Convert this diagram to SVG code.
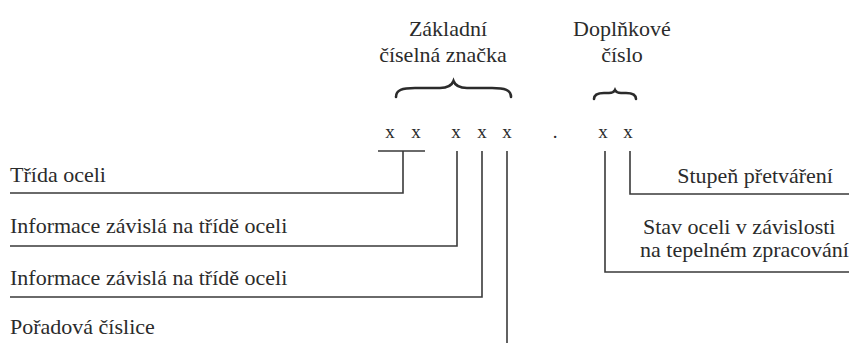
<svg xmlns="http://www.w3.org/2000/svg" width="849" height="343" viewBox="0 0 849 343">
<rect width="849" height="343" fill="#ffffff"/>
<g id="header-basic">
<text x="448" y="36" font-family="Liberation Serif" font-size="22" fill="#2b2b2b" text-anchor="middle">Základní</text>
<text x="443" y="62" font-family="Liberation Serif" font-size="22" fill="#2b2b2b" text-anchor="middle">číselná značka</text>
<path d="M396,97 C396,90 402,88 415,88 L440,88 C448,88 452,85 453.5,81 C455,85 459,88 467,88 L492,88 C505,88 511,90 511,97" fill="none" stroke="#2b2b2b" stroke-width="2.6" stroke-linecap="round"/>
</g>
<g id="header-extra">
<text x="622" y="36" font-family="Liberation Serif" font-size="22" fill="#2b2b2b" text-anchor="middle">Doplňkové</text>
<text x="622" y="62" font-family="Liberation Serif" font-size="22" fill="#2b2b2b" text-anchor="middle">číslo</text>
<path d="M594,99 C594,94 598,93 604,93 L609,93 C612,93 614,92 615,90 C616,92 618,93 621,93 L626,93 C632,93 636,94 636,99" fill="none" stroke="#2b2b2b" stroke-width="2.6" stroke-linecap="round"/>
</g>
<g id="code">
<text x="390" y="138" font-family="Liberation Serif" font-size="19" fill="#2b2b2b" text-anchor="middle">x</text>
<text x="416" y="138" font-family="Liberation Serif" font-size="19" fill="#2b2b2b" text-anchor="middle">x</text>
<text x="456" y="138" font-family="Liberation Serif" font-size="19" fill="#2b2b2b" text-anchor="middle">x</text>
<text x="482" y="138" font-family="Liberation Serif" font-size="19" fill="#2b2b2b" text-anchor="middle">x</text>
<text x="507" y="138" font-family="Liberation Serif" font-size="19" fill="#2b2b2b" text-anchor="middle">x</text>
<text x="555" y="138" font-family="Liberation Serif" font-size="19" fill="#2b2b2b" text-anchor="middle">.</text>
<text x="603" y="138" font-family="Liberation Serif" font-size="19" fill="#2b2b2b" text-anchor="middle">x</text>
<text x="628" y="138" font-family="Liberation Serif" font-size="19" fill="#2b2b2b" text-anchor="middle">x</text>
</g>
<g id="connectors" fill="none" stroke="#3a3a3a" stroke-width="1.6">
<path d="M378,151 H425 M403,151 V193 H10"/>
<path d="M457,151 V246 H10"/>
<path d="M482,151 V297 H10"/>
<path d="M507,151 V343"/>
<path d="M630,151 V194 H849"/>
<path d="M605,151 V272 H849"/>
</g>
<g id="label-trida"><text x="10" y="182" font-family="Liberation Serif" font-size="22" fill="#2b2b2b">Třída oceli</text></g>
<g id="label-info1"><text x="10" y="233" font-family="Liberation Serif" font-size="22" fill="#2b2b2b">Informace závislá na třídě oceli</text></g>
<g id="label-info2"><text x="10" y="285" font-family="Liberation Serif" font-size="22" fill="#2b2b2b">Informace závislá na třídě oceli</text></g>
<g id="label-poradova"><text x="10" y="334" font-family="Liberation Serif" font-size="22" fill="#2b2b2b">Pořadová číslice</text></g>
<g id="label-stupen"><text x="833" y="183" font-family="Liberation Serif" font-size="22" fill="#2b2b2b" text-anchor="end">Stupeň přetváření</text></g>
<g id="label-stav">
<text x="643" y="234" font-family="Liberation Serif" font-size="22" fill="#2b2b2b">Stav oceli v závislosti</text>
<text x="640" y="257" font-family="Liberation Serif" font-size="22" fill="#2b2b2b">na tepelném zpracování</text>
</g>
</svg>
